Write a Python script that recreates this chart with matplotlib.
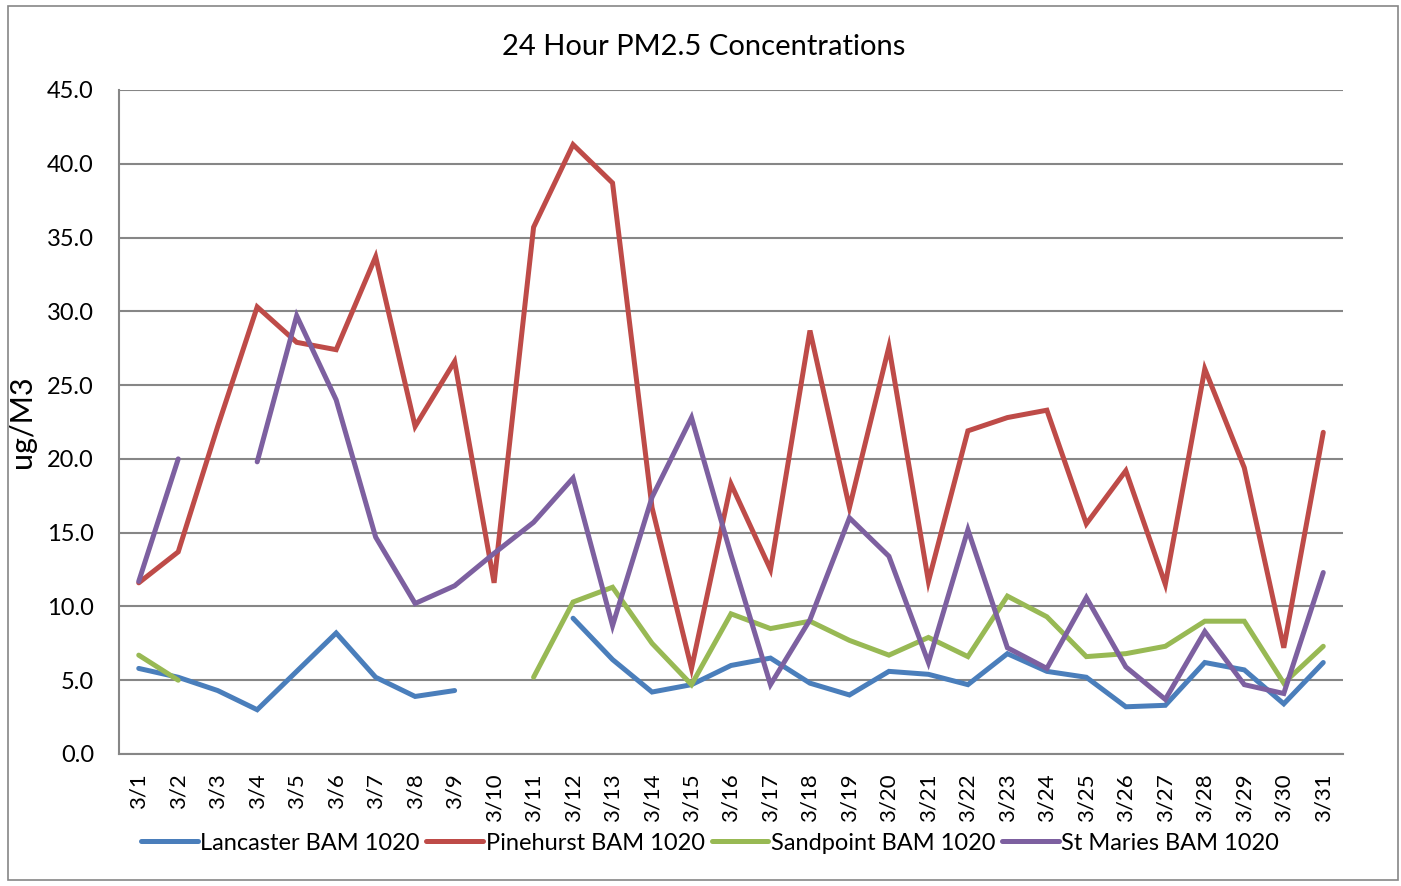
import numpy as np
import matplotlib.pyplot as plt
from matplotlib.patches import Rectangle

nan = np.nan
days = ["3/%d" % d for d in range(1, 32)]

lancaster = [5.8, 5.2, 4.3, 3.0, 5.6, 8.2, 5.2, 3.9, 4.3, nan, nan, 9.2, 6.4, 4.2, 4.7, 6.0,
             6.5, 4.8, 4.0, 5.6, 5.4, 4.7, 6.8, 5.6, 5.2, 3.2, 3.3, 6.2, 5.7, 3.4, 6.2]
pinehurst = [11.6, 13.7, 22.2, 30.3, 27.9, 27.4, 33.7, 22.2, 26.6, 11.6, 35.7, 41.3, 38.7, 16.7,
             5.8, 18.3, 12.5, 28.7, 16.7, 27.6, 11.7, 21.9, 22.8, 23.3, 15.6, 19.2, 11.5, 26.1,
             19.4, 7.2, 21.8]
sandpoint = [6.7, 5.0, nan, nan, nan, nan, nan, nan, nan, nan, 5.2, 10.3, 11.3, 7.5, 4.7, 9.5,
             8.5, 9.0, 7.7, 6.7, 7.9, 6.6, 10.7, 9.3, 6.6, 6.8, 7.3, 9.0, 9.0, 4.8, 7.3]
stmaries = [11.7, 20.0, nan, 19.8, 29.7, 24.0, 14.7, 10.2, 11.4, 13.6, 15.7, 18.7, 8.7, 17.4,
            22.8, 13.5, 4.7, 9.1, 16.0, 13.4, 6.2, 15.2, 7.2, 5.8, 10.6, 5.9, 3.7, 8.3, 4.7,
            4.1, 12.3]

series = [("Lancaster BAM 1020", lancaster, "#4A7EBB"),
          ("Pinehurst BAM 1020", pinehurst, "#BE4B48"),
          ("Sandpoint BAM 1020", sandpoint, "#98B954"),
          ("St Maries BAM 1020", stmaries, "#7D60A0")]

plt.rcParams['font.family'] = ['Lato', 'DejaVu Sans']

fig = plt.figure(figsize=(14.01, 8.86), dpi=100)
ax = fig.add_axes([119 / 1401, 1 - 754 / 886, (1343 - 119) / 1401, (754 - 90) / 886])

x = np.arange(len(days))
for name, vals, col in series:
    ax.plot(x, vals, color=col, lw=3.6, label=name, solid_capstyle='round',
            solid_joinstyle='miter')

ax.set_xlim(-0.5, len(days) - 0.5)
ax.set_ylim(0, 45)
ax.set_yticks(np.arange(0, 45.1, 5))
ax.set_yticklabels(["%.1f" % v for v in np.arange(0, 45.1, 5)], fontsize=17)
ax.set_xticks(x)
ax.set_xticklabels(days, rotation=90, fontsize=16)
ax.tick_params(axis='y', length=0, pad=18)
ax.tick_params(axis='x', length=0, pad=14)
ax.grid(axis='y', color='#868686', lw=1.5)
ax.set_axisbelow(True)
for s in ['top', 'right']:
    ax.spines[s].set_visible(False)
ax.spines['left'].set_color('#868686')
ax.spines['left'].set_linewidth(1.5)
ax.spines['bottom'].set_color('#868686')
ax.spines['bottom'].set_linewidth(1.5)

ax.set_ylabel("ug/M3", fontsize=22)
ax.yaxis.set_label_coords(-0.068, 0.5)
fig.text(704 / 1401, 1 - 47 / 886, "24 Hour PM2.5 Concentrations", fontsize=21,
         ha='center', va='center')

fig.legend(loc='center', bbox_to_anchor=(710 / 1401, 1 - 843 / 886), ncol=4, frameon=False,
           fontsize=17, handlelength=2.4, handletextpad=0.1, columnspacing=0.3)

fig.patches.append(Rectangle((8 / 1401, 6 / 886), 1390 / 1401, 874 / 886, transform=fig.transFigure,
                             fill=False, edgecolor='#868686', lw=1.2))

fig.savefig("out.png", dpi=100)
